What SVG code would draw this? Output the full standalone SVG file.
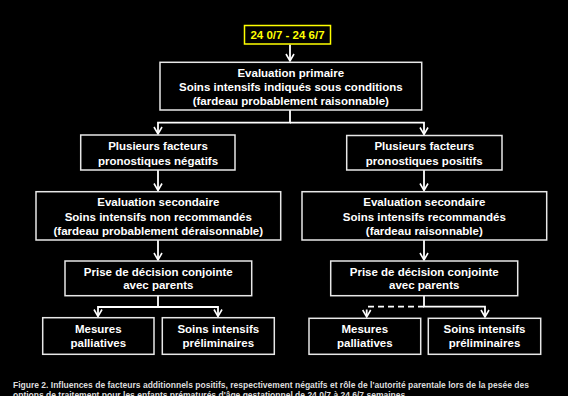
<svg xmlns="http://www.w3.org/2000/svg" width="568" height="396" viewBox="0 0 568 396">
<style>
.box{fill:#000;stroke:#e8e8e8;stroke-width:1.5}
.t{font-family:"Liberation Sans",Arial,sans-serif;font-weight:bold;font-size:11.5px;fill:#fff;text-anchor:middle}
.y{font-family:"Liberation Sans",Arial,sans-serif;font-weight:bold;font-size:11.5px;fill:#ffff00;text-anchor:middle}
.c{stroke:#fff;stroke-width:1.8;fill:none}
.cap{font-family:"Liberation Sans",Arial,sans-serif;font-weight:bold;font-size:8.5px;fill:#ddd}
</style>
<defs>
<marker id="ah" markerWidth="10" markerHeight="10" viewBox="0 0 10 10" refX="8" refY="5" orient="auto" markerUnits="userSpaceOnUse">
<path d="M1,1 L8,5 L1,9" fill="none" stroke="#fff" stroke-width="1.6"/>
</marker>
</defs>
<rect width="568" height="396" fill="#000"/>
<g id="connectors">
<path class="c" d="M290,44.5 V61" marker-end="url(#ah)"/>
<path class="c" d="M290,110 V122.7 H158 V134" marker-end="url(#ah)"/>
<path class="c" d="M290,122.7 H424 V134.5" marker-end="url(#ah)"/>
<path class="c" d="M158,170 V190.5" marker-end="url(#ah)"/>
<path class="c" d="M424,170 V190.5" marker-end="url(#ah)"/>
<path class="c" d="M158,240 V260" marker-end="url(#ah)"/>
<path class="c" d="M424,240 V260" marker-end="url(#ah)"/>
<path class="c" d="M158,295.7 V307 H98 V316.5" marker-end="url(#ah)"/>
<path class="c" d="M158,307 H218 V316.5" marker-end="url(#ah)"/>
<path class="c" d="M424,295.7 V306.7 H485 V317" marker-end="url(#ah)"/>
<path class="c" d="M424,306.7 H366.7 V317" stroke-dasharray="6,4" marker-end="url(#ah)"/>
</g>
<g id="start">
<rect x="244.5" y="25.5" width="86" height="18.5" fill="#000" stroke="#ffff00" stroke-width="1.5"/>
<text x="287.5" y="39" class="y">24 0/7 - 24 6/7</text>
</g>
<g id="primary">
<rect class="box" x="160" y="62.3" width="261.7" height="47.7"/>
<text class="t" x="290.8" y="77">Evaluation primaire</text>
<text class="t" x="290.8" y="91">Soins intensifs indiqués sous conditions</text>
<text class="t" x="290.8" y="105">(fardeau probablement raisonnable)</text>
</g>
<g id="neg">
<rect class="box" x="80.7" y="135" width="154.3" height="35"/>
<text class="t" x="158" y="150">Plusieurs facteurs</text>
<text class="t" x="158" y="164.7">pronostiques négatifs</text>
</g>
<g id="pos">
<rect class="box" x="346.7" y="135.5" width="155.3" height="34.5"/>
<text class="t" x="424.3" y="150">Plusieurs facteurs</text>
<text class="t" x="424.3" y="164.7">pronostiques positifs</text>
</g>
<g id="secneg">
<rect class="box" x="36" y="191.7" width="244.7" height="48.3"/>
<text class="t" x="158.3" y="206">Evaluation secondaire</text>
<text class="t" x="158.3" y="220.5">Soins intensifs non recommandés</text>
<text class="t" x="158.3" y="234.7">(fardeau probablement déraisonnable)</text>
</g>
<g id="secpos">
<rect class="box" x="302" y="191.7" width="244.7" height="48.3"/>
<text class="t" x="424.3" y="206">Evaluation secondaire</text>
<text class="t" x="424.3" y="220.5">Soins intensifs recommandés</text>
<text class="t" x="424.3" y="234.7">(fardeau raisonnable)</text>
</g>
<g id="decneg">
<rect class="box" x="65" y="261" width="186.7" height="34.7"/>
<text class="t" x="158.3" y="276">Prise de décision conjointe</text>
<text class="t" x="158.3" y="289">avec parents</text>
</g>
<g id="decpos">
<rect class="box" x="330.7" y="261" width="187" height="34.7"/>
<text class="t" x="424.2" y="276">Prise de décision conjointe</text>
<text class="t" x="424.2" y="289">avec parents</text>
</g>
<g id="pal1">
<rect class="box" x="42.7" y="317.7" width="111.3" height="36.6"/>
<text class="t" x="98.3" y="333">Mesures</text>
<text class="t" x="98.3" y="346.5">palliatives</text>
</g>
<g id="soins1">
<rect class="box" x="162.3" y="317.7" width="112" height="36.6"/>
<text class="t" x="218.3" y="333">Soins intensifs</text>
<text class="t" x="218.3" y="346.5">préliminaires</text>
</g>
<g id="pal2">
<rect class="box" x="309" y="318.3" width="111.7" height="36"/>
<text class="t" x="364.8" y="333">Mesures</text>
<text class="t" x="364.8" y="346.5">palliatives</text>
</g>
<g id="soins2">
<rect class="box" x="428.3" y="318.3" width="112.4" height="36"/>
<text class="t" x="484.5" y="333">Soins intensifs</text>
<text class="t" x="484.5" y="346.5">préliminaires</text>
</g>
<text class="cap" x="13" y="387.5">Figure 2. Influences de facteurs additionnels positifs, respectivement négatifs et rôle de l'autorité parentale lors de la pesée des</text>
<text class="cap" x="13" y="397.5">options de traitement pour les enfants prématurés d'âge gestationnel de 24 0/7 à 24 6/7 semaines.</text>
</svg>
